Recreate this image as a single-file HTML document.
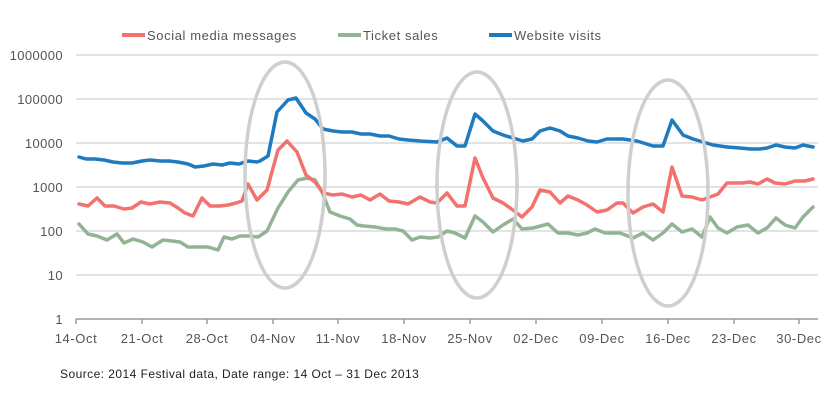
<!DOCTYPE html>
<html><head><style>
html,body{margin:0;padding:0;background:#fff;}
svg{display:block;font-family:"Liberation Sans",sans-serif;}
</style></head><body>
<svg width="840" height="400" viewBox="0 0 840 400">
<g stroke="#dadada" stroke-width="1.5">
<line x1="76" y1="55" x2="818" y2="55"/><line x1="76" y1="99" x2="818" y2="99"/>
<line x1="76" y1="143" x2="818" y2="143"/><line x1="76" y1="187" x2="818" y2="187"/>
<line x1="76" y1="231" x2="818" y2="231"/><line x1="76" y1="275" x2="818" y2="275"/>
</g>
<g stroke="#9a9a9a" stroke-width="1.5">
<line x1="76" y1="319" x2="818" y2="319"/>
<line x1="76" y1="319" x2="76" y2="324"/><line x1="142" y1="319" x2="142" y2="324"/>
<line x1="207" y1="319" x2="207" y2="324"/><line x1="273" y1="319" x2="273" y2="324"/>
<line x1="338" y1="319" x2="338" y2="324"/><line x1="404" y1="319" x2="404" y2="324"/>
<line x1="470" y1="319" x2="470" y2="324"/><line x1="536" y1="319" x2="536" y2="324"/>
<line x1="602" y1="319" x2="602" y2="324"/><line x1="668" y1="319" x2="668" y2="324"/>
<line x1="734" y1="319" x2="734" y2="324"/><line x1="799" y1="319" x2="799" y2="324"/>
</g>
<g font-size="13" fill="#555" text-anchor="end" letter-spacing="0.4">
<text x="63" y="60">1000000</text><text x="63" y="104">100000</text>
<text x="63" y="148">10000</text><text x="63" y="192">1000</text>
<text x="63" y="236">100</text><text x="63" y="280">10</text><text x="63" y="324">1</text>
</g>
<g font-size="13" fill="#555" text-anchor="middle" letter-spacing="0.6">
<text x="76" y="343">14-Oct</text><text x="142" y="343">21-Oct</text><text x="207" y="343">28-Oct</text>
<text x="273" y="343">04-Nov</text><text x="338" y="343">11-Nov</text><text x="404" y="343">18-Nov</text>
<text x="470" y="343">25-Nov</text><text x="536" y="343">02-Dec</text><text x="602" y="343">09-Dec</text>
<text x="668" y="343">16-Dec</text><text x="734" y="343">23-Dec</text><text x="799" y="343">30-Dec</text>
</g>
<g fill="none" stroke-width="3.5" stroke-linejoin="round" stroke-linecap="round">
<polyline stroke="#93b395" points="79,224 88,234 97,236 107,240 117,234 124,243 133,239 143,242 152,247 163,240 172,241 180,242 188,247 197,247 208,247 218,250 224,237 232,239 240,236 250,236 258,237 267,231 278,208 288,192 298,180 307,178 315,180 322,192 330,212 340,216 350,219 357,225 364,226 375,227 386,229 395,229 403,231 412,240 420,237 430,238 438,237 447,231 455,233 465,238 475,216 483,222 493,232 503,225 513,219 522,229 533,228 548,224 558,233 568,233 578,235 587,233 595,229 605,233 620,233 633,238 643,233 653,240 663,233 672,224 682,232 692,229 702,237 710,217 718,228 727,233 737,227 748,225 758,233 767,228 776,218 785,225 795,228 803,217 813,207"/>
<polyline stroke="#f3726f" points="79,204 88,206 97,198 105,206 114,206 124,209 132,208 141,202 150,204 160,202 170,203 178,208 185,213 193,216 202,198 210,206 220,206 228,205 236,203 242,201 248,184 257,200 267,190 278,150 287,141 297,152 306,175 315,182 323,193 333,195 342,194 352,197 361,195 370,200 380,194 389,201 399,202 408,204 420,197 430,202 437,203 447,193 457,206 465,206 475,158 483,178 493,198 503,203 513,210 522,217 532,207 540,190 550,192 560,203 568,196 578,200 587,205 597,212 607,210 617,203 623,203 633,213 643,207 653,204 663,212 672,167 682,196 692,197 702,200 710,197 718,194 727,183 742,183 750,182 758,184 767,179 775,183 785,184 795,181 805,181 813,179"/>
<polyline stroke="#1f7bbf" points="79,157 86,159 95,159 104,160 113,162 122,163 132,163 142,161 150,160 160,161 169,161 178,162 188,164 195,167 204,166 213,164 222,165 230,163 239,164 248,161 257,162 260,161 268,156 277,112 288,100 296,98 306,113 315,119 323,129 333,131 342,132 352,132 361,134 370,134 380,136 389,136 399,139 408,140 420,141 437,142 447,138 457,146 465,146 475,114 483,121 493,131 503,135 513,138 523,141 532,139 540,131 550,128 560,131 568,136 578,138 588,141 597,142 607,139 623,139 637,141 653,146 663,146 672,120 683,135 693,139 703,142 713,145 727,147 740,148 750,149 760,149 767,148 776,145 785,147 795,148 803,145 813,147"/>
</g>
<g fill="none" stroke="#cfcfcf" stroke-width="3.5">
<ellipse cx="285" cy="175" rx="40" ry="113"/>
<ellipse cx="477" cy="185" rx="40" ry="113"/>
<ellipse cx="668" cy="193" rx="40" ry="113"/>
</g>
<g stroke-width="4">
<line x1="122" y1="35" x2="145" y2="35" stroke="#f3726f"/>
<line x1="338" y1="35" x2="361" y2="35" stroke="#93b395"/>
<line x1="489" y1="35" x2="512" y2="35" stroke="#1f7bbf"/>
</g>
<g font-size="13" fill="#555" letter-spacing="0.6">
<text x="147" y="40">Social media messages</text>
<text x="363" y="40">Ticket sales</text>
<text x="514" y="40">Website visits</text>
</g>
<text x="60" y="378" font-size="12" fill="#222" letter-spacing="0.45">Source: 2014 Festival data, Date range: 14 Oct – 31 Dec 2013</text>
</svg>
</body></html>
